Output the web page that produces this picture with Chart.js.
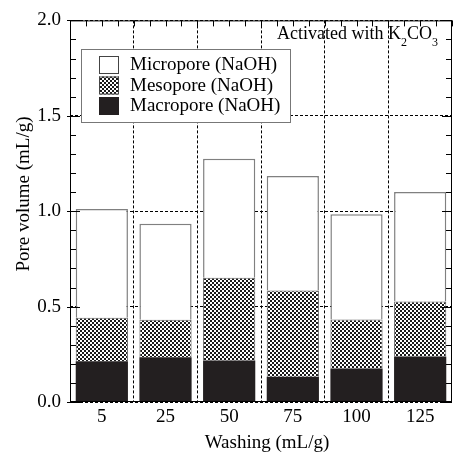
<!DOCTYPE html>
<html>
<head>
<meta charset="utf-8">
<script src="https://cdn.jsdelivr.net/npm/chart.js@4.4.1/dist/chart.umd.min.js"></script>
<style>
  body{margin:0;background:#fff;}
  #wrap{width:455px;height:457px;}
</style>
</head>
<body>
<div id="wrap"><canvas id="chartCanvas" width="455" height="457"></canvas></div>
<script>
//data
const washing=['5','25','50','75','100','125'];
const macropore=[0.214,0.235,0.218,0.132,0.175,0.239];
const mesopore=[0.227,0.196,0.433,0.452,0.258,0.288];
const micropore=[0.571,0.503,0.624,0.600,0.551,0.573];
const yTicks=[0,0.5,1.0,1.5,2.0];

const serif="'Liberation Serif','Times New Roman',serif";
Chart.defaults.font.family=serif;
Chart.defaults.color='#000';

//crosshatch pattern for mesopore
function makeHatch(){
    const c=document.createElement('canvas');
    c.width=4;c.height=4;
    const g=c.getContext('2d');
    g.fillStyle='#1a1a1a';
    g.fillRect(0,0,4,4);
    g.fillStyle='#fff';
    g.fillRect(0,0,2,2);
    g.fillRect(2,2,2,2);
    return g.createPattern(c,'repeat');
}
const hatch=makeHatch();

//frame, minor ticks, legend box, titles
const decorations={
    id:'decorations',
    afterDraw(chart){
        const ctx=chart.ctx;
        const a=chart.chartArea;
        const y=chart.scales.y;
        const x=chart.scales.x;
        ctx.save();
        ctx.strokeStyle='#000';
        ctx.lineWidth=1;
        ctx.setLineDash([]);
        //frame
        ctx.strokeRect(a.left+0.5,a.top+0.5,a.right-a.left-1,a.bottom-a.top-1);
        //y ticks left and right
        ctx.beginPath();
        for(let i=0;i<=20;i++){
            const v=i/10;
            const py=Math.round(y.getPixelForValue(v))+0.5;
            const major=(i%5===0);
            const len=major?10:6;
            ctx.moveTo(a.left-(major?3:0),py);ctx.lineTo(a.left+len,py);
            ctx.moveTo(a.right,py);ctx.lineTo(a.right-len,py);
        }
        //top ticks
        const band=(a.right-a.left)/washing.length;
        for(let i=0;i<=washing.length*4;i++){
            const px=Math.round(a.left+i*band/4)+0.5;
            ctx.moveTo(px,a.top);ctx.lineTo(px,a.top+6);
        }
        ctx.stroke();

        //legend
        ctx.fillStyle='#fff';
        ctx.fillRect(81,49,210,74);
        ctx.strokeStyle='#777';
        ctx.strokeRect(81.5,49.5,209,73);
        const items=[
            {label:'Micropore (NaOH)',fill:'#fff',stroke:'#444'},
            {label:'Mesopore (NaOH)',fill:hatch,stroke:'#444'},
            {label:'Macropore (NaOH)',fill:'#231f20',stroke:'#231f20'}
        ];
        ctx.font='19px '+serif;
        ctx.textBaseline='middle';
        ctx.textAlign='left';
        items.forEach((it,i)=>{
            const top=56+i*20.5;
            ctx.fillStyle=it.fill;
            ctx.fillRect(99,top,20,18);
            ctx.strokeStyle=it.stroke;
            ctx.strokeRect(99.5,top+0.5,19,17);
            ctx.fillStyle='#000';
            ctx.fillText(it.label,130,top+9.5);
        });

        //annotation
        ctx.font='18px '+serif;
        ctx.textBaseline='alphabetic';
        let tx=277;
        ctx.fillText('Activated with K',tx,39);
        tx+=ctx.measureText('Activated with K').width;
        ctx.font='12px '+serif;
        ctx.fillText('2',tx,46);
        tx+=ctx.measureText('2').width;
        ctx.font='18px '+serif;
        ctx.fillText('CO',tx,39);
        tx+=ctx.measureText('CO').width;
        ctx.font='12px '+serif;
        ctx.fillText('3',tx,46);

        //axis titles
        ctx.font='19px '+serif;
        ctx.textAlign='center';
        ctx.textBaseline='middle';
        ctx.fillText('Washing (mL/g)',267,443);
        ctx.translate(24,194);
        ctx.rotate(-Math.PI/2);
        ctx.fillText('Pore volume (mL/g)',0,0);
        ctx.restore();
    }
};

const data={
    labels:washing,
    datasets:[
        {
            label:'Macropore (NaOH)',
            data:macropore,
            backgroundColor:'#231f20',
            borderColor:'#231f20',
            borderWidth:0
        },
        {
            label:'Mesopore (NaOH)',
            data:mesopore,
            backgroundColor:hatch,
            borderColor:'#666',
            borderWidth:1
        },
        {
            label:'Micropore (NaOH)',
            data:micropore,
            backgroundColor:'#fff',
            borderColor:'#808080',
            borderWidth:1.5
        }
    ]
};

const config={
    type:'bar',
    data:data,
    options:{
        responsive:false,
        animation:false,
        devicePixelRatio:1,
        layout:{padding:{left:0,top:14,right:3,bottom:0}},
        datasets:{bar:{categoryPercentage:1,barPercentage:0.82}},
        plugins:{
            legend:{display:false},
            tooltip:{enabled:false}
        },
        scales:{
            x:{
                stacked:true,
                offset:true,
                grid:{offset:true,color:'#000',lineWidth:1,drawTicks:false},
                border:{display:false,dash:[3,2]},
                ticks:{padding:4,font:{size:19},color:'#000'},
                afterFit(scale){scale.height=55;}
            },
            y:{
                stacked:true,
                min:0,
                max:2,
                afterBuildTicks(scale){scale.ticks=yTicks.map(v=>({value:v}));},
                grid:{color:'#000',lineWidth:1,drawTicks:false},
                border:{display:false,dash:[3,2]},
                ticks:{padding:9,font:{size:19},color:'#000',callback:v=>v.toFixed(1)},
                afterFit(scale){scale.width=70;}
            }
        }
    },
    plugins:[decorations]
};

var myChart=new Chart(document.getElementById('chartCanvas'),config);
</script>
</body>
</html>
